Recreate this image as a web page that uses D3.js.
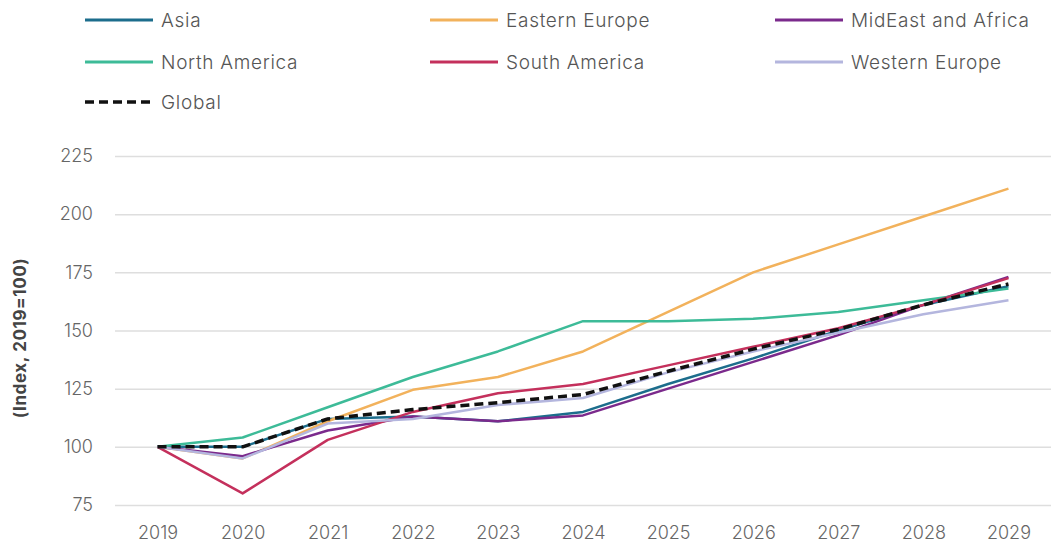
<!DOCTYPE html>
<html>
<head>
<meta charset="utf-8">
<script src="https://cdn.jsdelivr.net/npm/d3@7"></script>
<style>
  html, body { margin: 0; padding: 0; background: #fff; }
  svg { display: block; font-family: Inter, "Open Sans", sans-serif; }
</style>
</head>
<body>
<svg id="chart" width="1051" height="545"></svg>
<script>
// Index values, 2019 = 100
const years = ["2019","2020","2021","2022","2023","2024","2025","2026","2027","2028","2029"];
const asia          = [100, 100, 112, 113, 111, 115, 127, 138, 150, 161, 169];
const easternEurope = [100, 95, 111, 124.5, 130, 141, 158, 175, 187, 199, 211];
const midEastAfrica = [100, 96, 107, 113, 111, 113.5, 125, 136.5, 148, 161, 173];
const northAmerica  = [100, 104, 117, 130, 141, 154, 154, 155, 158, 163, 168];
const southAmerica  = [100, 80, 103, 115, 123, 127, 135, 143, 151, 161, 172.5];
const westernEurope = [100, 95, 110, 112, 118, 121, 132, 141, 149, 157, 163];
const globalIndex   = [100, 100, 112, 116, 119, 122.5, 132.5, 142, 150.5, 161, 170];
const yTicks = [75, 100, 125, 150, 175, 200, 225];

const series = [
  { name: "Asia",               values: asia,          color: "#1c6d8c" },
  { name: "Eastern Europe",     values: easternEurope, color: "#f2b25c" },
  { name: "MidEast and Africa", values: midEastAfrica, color: "#7b2a8c" },
  { name: "North America",      values: northAmerica,  color: "#3dbb98" },
  { name: "South America",      values: southAmerica,  color: "#c4305c" },
  { name: "Western Europe",     values: westernEurope, color: "#b4b6de" },
  { name: "Global",             values: globalIndex,   color: "#111111", dashed: true }
];

const svg = d3.select("#chart");

const x = d3.scalePoint().domain(years).range([115, 1051]).padding(0.5);
const y = d3.scaleLinear().domain([75, 225]).range([505, 156]);

// Horizontal gridlines and y tick labels
const yAxis = d3.axisLeft(y).tickValues(yTicks).tickSize(-(1051 - 115)).tickPadding(22);
svg.append("g")
  .attr("transform", "translate(115,0)")
  .call(yAxis)
  .call(g => g.select(".domain").remove())
  .call(g => g.selectAll(".tick line").attr("stroke", "#dedede").attr("stroke-width", 1.5))
  .call(g => g.selectAll(".tick text")
    .attr("fill", "#666").attr("font-size", 18).attr("font-weight", 300)
    .attr("font-family", "Inter, sans-serif"));

// X axis labels
const xAxis = d3.axisBottom(x).tickSize(0).tickPadding(14);
svg.append("g")
  .attr("transform", "translate(0,512)")
  .call(xAxis)
  .call(g => g.select(".domain").remove())
  .call(g => g.selectAll(".tick text")
    .attr("fill", "#666").attr("font-size", 18).attr("font-weight", 300)
    .attr("font-family", "Inter, sans-serif"));

// Y axis title
svg.append("text")
  .attr("transform", "translate(26,338) rotate(-90)")
  .attr("text-anchor", "middle")
  .attr("font-size", 17)
  .attr("font-weight", "bold")
  .attr("letter-spacing", 0.6)
  .attr("fill", "#444")
  .text("(Index, 2019=100)");

// Lines
const line = d3.line()
  .x((d, i) => x(years[i]))
  .y(d => y(d));

svg.append("g").selectAll("path")
  .data(series)
  .join("path")
  .attr("d", s => line(s.values))
  .attr("fill", "none")
  .attr("stroke", s => s.color)
  .attr("stroke-width", s => s.dashed ? 3.5 : 2.5)
  .attr("stroke-dasharray", s => s.dashed ? "9,5" : null)
  .attr("stroke-linejoin", "round");

// Legend: three columns
const legendCols = [85, 430, 775];
const legendRows = [20, 62, 102];
const legend = svg.append("g").selectAll("g")
  .data(series)
  .join("g")
  .attr("transform", (d, i) => `translate(${legendCols[i % 3]},${legendRows[Math.floor(i / 3)]})`);

legend.append("line")
  .attr("x1", 0).attr("x2", 68)
  .attr("y1", 0).attr("y2", 0)
  .attr("stroke", d => d.color)
  .attr("stroke-width", d => d.dashed ? 3.5 : 3)
  .attr("stroke-dasharray", d => d.dashed ? "9,5" : null);

legend.append("text")
  .attr("x", 76)
  .attr("y", 0)
  .attr("dy", "0.35em")
  .attr("font-size", 19)
  .attr("font-weight", 300)
  .attr("letter-spacing", 0.7)
  .attr("fill", "#555")
  .text(d => d.name);
</script>
</body>
</html>
